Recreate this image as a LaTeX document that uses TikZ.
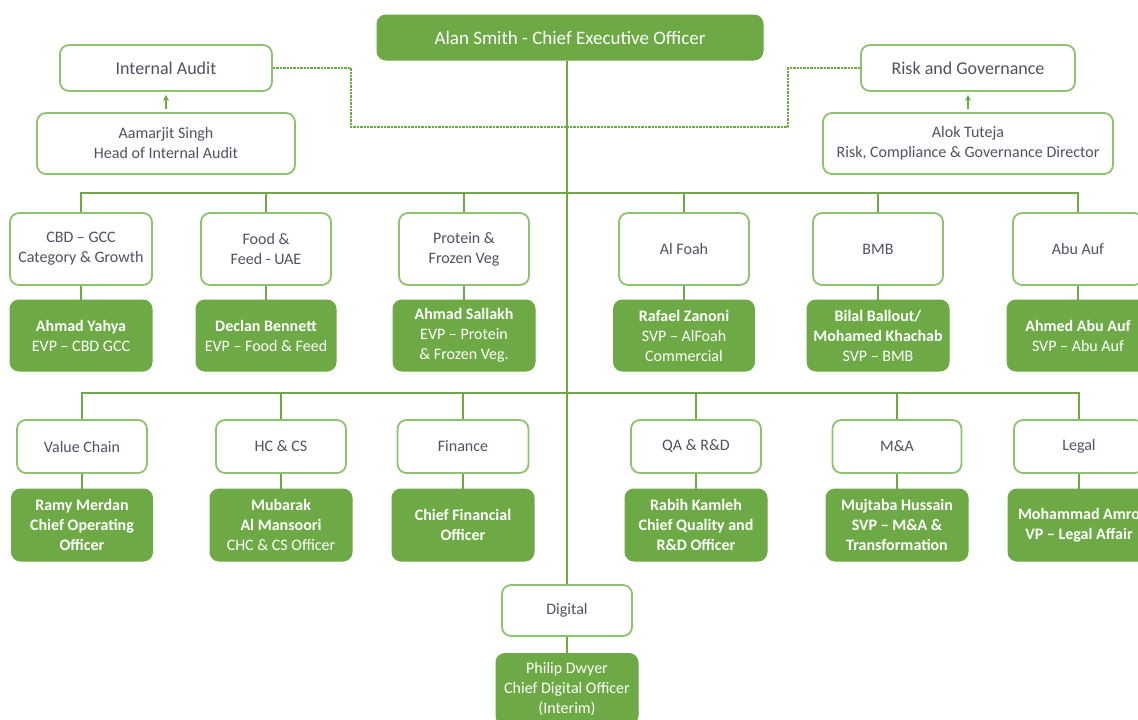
\documentclass[tikz,border=0pt]{standalone}
\usepackage{fontspec}
\setmainfont{Carlito}
\usetikzlibrary{arrows.meta}
\definecolor{boxFill}{HTML}{6DAA45}
\definecolor{boxLine}{HTML}{8DC26F}
\definecolor{lineGreen}{HTML}{6DAA45}
\definecolor{labelGrey}{HTML}{505163}
\begin{document}
\begin{tikzpicture}
[x=1pt,y=-1pt,
  unitDecorate/.style={draw=boxLine,line width=1.8pt,rounded corners=9pt,fill=white,
    text=labelGrey,align=center,inner sep=0pt,font=\fontsize{16}{20}\selectfont},
  headDecorate/.style={draw=boxFill,fill=boxFill,line width=1pt,rounded corners=9pt,
    text=white,align=center,inner sep=0pt,font=\fontsize{16}{20}\selectfont},
  lineDecorate/.style={draw=lineGreen,line width=2.2pt},
  dotDecorate/.style={draw=lineGreen,line width=2.6pt,dash pattern=on 2.4pt off 1pt},
  arrowDecorate/.style={draw=lineGreen,line width=1.4pt,-{Stealth[length=6pt,width=6pt]},
    shorten <=3pt,shorten >=3pt}]
\useasboundingbox (0,0) rectangle (1138,720);
%% chief executive and the two control functions
\node (ceo) at (570,37.5) [headDecorate,minimum width=386pt,minimum height=45pt,
  font=\fontsize{19}{22}\selectfont] {Alan Smith - Chief Executive Officer};
\node (ia) at (166,68) [unitDecorate,minimum width=212pt,minimum height=46pt,
  font=\fontsize{18}{20}\selectfont] {Internal Audit};
\node (ia-h) at (166,143.5) [unitDecorate,minimum width=258pt,minimum height=61pt]
  {Aamarjit Singh\\Head of Internal Audit};
\node (rg) at (968,68) [unitDecorate,minimum width=214pt,minimum height=46pt,
  font=\fontsize{18}{20}\selectfont] {Risk and Governance};
\node (rg-h) at (968,143.5) [unitDecorate,minimum width=290pt,minimum height=61pt]
  {Alok Tuteja\\Risk, Compliance \& Governance Director};
%% first row: businesses
\foreach \nodename/\x/\wa/\wb/\unit/\head in {
  cbd/81/142/142/{CBD – GCC\\Category \& Growth}/{\textbf{Ahmad Yahya}\\EVP – CBD GCC},
  food/266/130/140/{Food \&\\Feed - UAE}/{\textbf{Declan Bennett}\\EVP – Food \& Feed},
  prot/464/130/142/{Protein \&\\Frozen Veg}/{\textbf{Ahmad Sallakh}\\EVP – Protein\\\& Frozen Veg.},
  foah/684/130/141/{Al Foah}/{\textbf{Rafael Zanoni}\\SVP – AlFoah\\Commercial},
  bmb/878/130/142/{BMB}/{\textbf{Bilal Ballout/}\\\textbf{Mohamed Khachab}\\SVP – BMB},
  abu/1078/130/142/{Abu Auf}/{\textbf{Ahmed Abu Auf}\\SVP – Abu Auf}}
{
  \node (\nodename) at (\x,249) [unitDecorate,minimum width=\wa pt,minimum height=72pt] {\unit};
  \node (\nodename-h) at (\x,335.5) [headDecorate,minimum width=\wb pt,minimum height=71pt] {\head};
}
%% second row: group functions
\foreach \nodename/\x/\wa/\wb/\unit/\head in {
  vc/82/130/141/{Value Chain}/{\textbf{Ramy Merdan}\\\textbf{Chief Operating}\\\textbf{Officer}},
  hc/281/130/142/{HC \& CS}/{\textbf{Mubarak}\\\textbf{Al Mansoori}\\CHC \& CS Officer},
  fin/463/131/142/{Finance}/{\textbf{Chief Financial}\\\textbf{Officer}},
  qa/696/130/142/{QA \& R\&D}/{\textbf{Rabih Kamleh}\\\textbf{Chief Quality and}\\\textbf{R\&D Officer}},
  ma/897/129/142/{M\&A}/{\textbf{Mujtaba Hussain}\\\textbf{SVP – M\&A \&}\\\textbf{Transformation}},
  legal/1079/130/142/{Legal}/{\textbf{Mohammad Amro}\\\textbf{VP – Legal Affair}}}
{
  \node (\nodename) at (\x,446.5) [unitDecorate,minimum width=\wa pt,minimum height=53pt] {\unit};
  \node (\nodename-h) at (\x,525) [headDecorate,minimum width=\wb pt,minimum height=72pt] {\head};
}
%% digital
\node (dig) at (567,610.5) [unitDecorate,minimum width=130pt,minimum height=51pt] {Digital};
\node (dig-h) at (567,689) [headDecorate,minimum width=142pt,minimum height=71pt]
  {Philip Dwyer\\Chief Digital Officer\\(Interim)};
%% trunk and bus lines
\coordinate (tap) at (567,127);
\coordinate (bus1) at (567,193);
\coordinate (bus2) at (567,393);
\draw[lineDecorate] (ceo.south -| dig.north) -- (dig.north);
\draw[lineDecorate] (cbd.north) |- (bus1) -| (abu.north);
\draw[lineDecorate] (vc.north) |- (bus2) -| (legal.north);
\foreach \nodename in {food,prot,foah,bmb}
{
  \draw[lineDecorate] (\nodename.north) -- (\nodename.north |- bus1);
}
\foreach \nodename in {hc,fin,qa,ma}
{
  \draw[lineDecorate] (\nodename.north) -- (\nodename.north |- bus2);
}
%% unit to head
\path
\foreach \nodename in {cbd,food,prot,foah,bmb,abu,vc,hc,fin,qa,ma,legal,dig}
{
  (\nodename) edge[lineDecorate] (\nodename-h)
};
%% dotted reporting lines
\draw[dotDecorate] (ia.east) -- ++(78,0) |- (tap);
\draw[dotDecorate] (rg.west) -- ++(-72,0) |- (tap);
\draw[arrowDecorate] (ia-h.north) -- (ia.south);
\draw[arrowDecorate] (rg-h.north) -- (rg.south);
\end{tikzpicture}
\end{document}
